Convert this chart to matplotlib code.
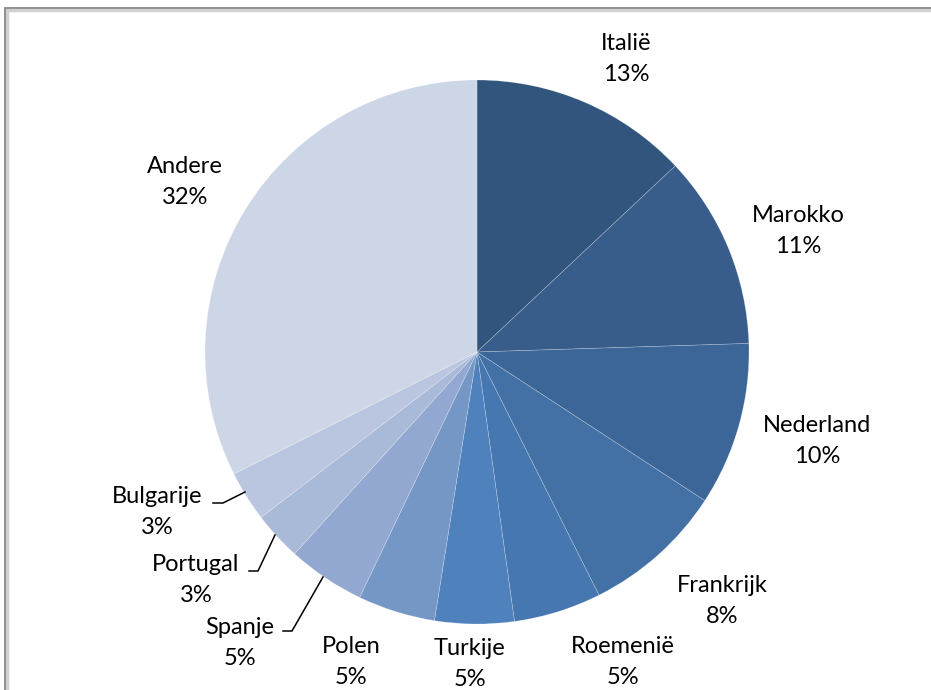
import matplotlib.pyplot as plt
from matplotlib.patches import Rectangle

# ------------DATA---------------
countries = ['Italië', 'Marokko', 'Nederland', 'Frankrijk', 'Roemenië', 'Turkije',
             'Polen', 'Spanje', 'Portugal', 'Bulgarije', 'Andere']
shares = [13.0, 11.5, 9.7, 8.4, 5.2, 4.7, 4.6, 4.6, 2.9, 3.0, 32.4]
pct_labels = ['13%', '11%', '10%', '8%', '5%', '5%', '5%', '5%', '3%', '3%', '32%']
colors = ['#31557c', '#385d8a', '#3d6698', '#4371a5', '#4677b0', '#4f81bd',
          '#7597c6', '#93a8d0', '#a9b9d8', '#bac6e0', '#cdd6e7']
# --------------------------------

W, H = 931, 690
fig = plt.figure(figsize=(W / 100, H / 100), dpi=100)
ax = fig.add_axes([0, 0, 1, 1])

cx, cy, r = 477, H - 352, 272
wedges, _ = ax.pie(shares, colors=colors, startangle=90, counterclock=False,
                   center=(cx, cy), radius=r,
                   wedgeprops=dict(edgecolor=(1, 1, 1, 0.35), linewidth=0.4))
ax.set_xlim(0, W)
ax.set_ylim(0, H)
ax.set_aspect('equal')
ax.axis('off')

# label positions (pixel coords, y measured from top)
label_xy = {
    'Italië': (626, 59), 'Marokko': (798, 231), 'Nederland': (817, 441),
    'Frankrijk': (722, 601), 'Roemenië': (623, 662), 'Turkije': (470, 664),
    'Polen': (351, 662), 'Spanje': (240, 643), 'Portugal': (196, 580),
    'Bulgarije': (157, 512), 'Andere': (185, 182),
}
# leader lines for the small slices: (wedge point, elbow, end)
leaders = {
    'Bulgarije': [(245, 492), (223, 503), (213, 503)],
    'Portugal': [(275, 535), (258, 571), (249, 571)],
    'Spanje': [(323, 577), (292, 631), (283, 631)],
}

font = ['Lato', 'DejaVu Sans']
for name, pct in zip(countries, pct_labels):
    x, y = label_xy[name]
    ax.text(x, H - y, name + '\n' + pct, ha='center', va='center',
            fontsize=17, family=font, linespacing=1.55, color='black')
    if name in leaders:
        pts = leaders[name]
        ax.plot([p[0] for p in pts], [H - p[1] for p in pts], color='black', lw=1.1)

# chart frame with a light shadow
fig.patches.append(Rectangle((7 / W, -0.05), 1.05, (H - 10) / H + 0.05,
                             transform=fig.transFigure, fill=False,
                             edgecolor='#d0d0d0', lw=2.5, zorder=0))
fig.patches.append(Rectangle((5 / W, -0.05), 1.05, (H - 8) / H + 0.05,
                             transform=fig.transFigure, fill=False,
                             edgecolor='#888888', lw=1.3, zorder=1))

fig.savefig('out.png', dpi=100)
